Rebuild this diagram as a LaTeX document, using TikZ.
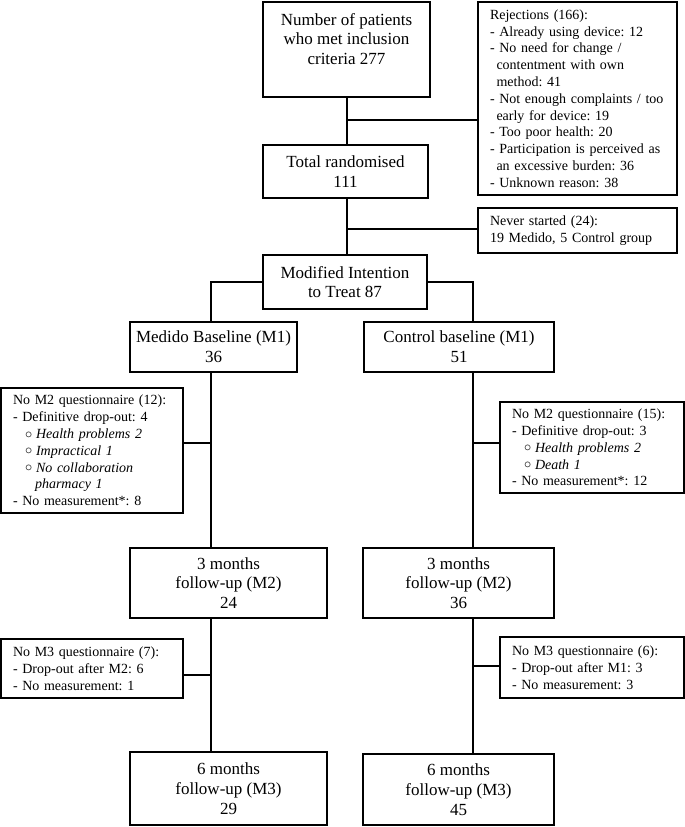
\documentclass[tikz,border=0pt]{standalone}
\usepackage{fontspec}
\setmainfont{Liberation Serif}
\frenchspacing
\newcommand\ind{\hspace*{6.5pt}}
\newcommand\bul{\hspace*{12pt}\makebox[11pt][l]{\raisebox{0.3pt}{$\circ$}}}
\tikzset{
  mainbox/.style={draw, line width=1.2pt, inner sep=0pt, align=center,
    font=\fontsize{17}{19.8}\selectfont},
  maintext/.style={inner sep=0pt, align=center, font=\fontsize{17}{19.8}\selectfont},
  sidebox/.style={draw, line width=1.2pt, inner sep=0pt, align=left,
    font=\fontsize{14}{16.8}\selectfont},
  conn/.style={line width=1.2pt},
}
\begin{document}
\begin{tikzpicture}[x=1pt,y=-1pt]
\useasboundingbox (0,0) rectangle (685,827);

% main column
\node[mainbox, minimum width=167pt, minimum height=95pt] (n1) at (346.5,49.5) {};
\node[maintext, anchor=north] (n1t) at (346.5,13) {Number of patients\\who met inclusion\\criteria 277};
\node[mainbox, minimum width=165pt, minimum height=53pt] (rand) at (345.5,171.5) {Total randomised\\111};
\node[mainbox, minimum width=164pt, minimum height=54pt] (mitt) at (345,282) {Modified Intention\\to Treat 87};
\node[mainbox, minimum width=167pt, minimum height=50pt] (med1) at (213.5,347) {Medido Baseline (M1)\\36};
\node[mainbox, minimum width=190pt, minimum height=50pt] (con1) at (459,347) {Control baseline (M1)\\51};
\node[mainbox, minimum width=197pt, minimum height=70pt] (med2) at (228.5,583) {3 months\\follow-up (M2)\\24};
\node[mainbox, minimum width=191pt, minimum height=70pt] (con2) at (458.5,583) {3 months\\follow-up (M2)\\36};
\node[mainbox, minimum width=197pt, minimum height=73pt] (med3) at (228.5,788.5) {6 months\\follow-up (M3)\\29};
\node[mainbox, minimum width=191pt, minimum height=71pt] (con3) at (458.5,789.5) {6 months\\follow-up (M3)\\45};

% side boxes
\node[sidebox, minimum width=199pt, minimum height=193pt, text width=175pt] (rej) at (577.5,98.5) {Rejections (166):\\
- Already using device: 12\\
- No need for change /\\
\ind contentment with own\\
\ind method: 41\\
- Not enough complaints / too\\
\ind early for device: 19\\
- Too poor health: 20\\
- Participation is perceived as\\
\ind an excessive burden: 36\\
- Unknown reason: 38};
\node[sidebox, minimum width=199pt, minimum height=45pt, text width=175pt] (never) at (577.5,230.5) {Never started (24):\\19 Medido, 5 Control group};
\node[sidebox, minimum width=182pt, minimum height=125pt, text width=158pt] (medno2) at (92,450.5) {No M2 questionnaire (12):\\
- Definitive drop-out: 4\\
\bul\textit{Health problems 2}\\
\bul\textit{Impractical 1}\\
\bul\textit{No collaboration}\\
\hspace*{22pt}\textit{pharmacy 1}\\
- No measurement*: 8};
\node[sidebox, minimum width=184pt, minimum height=91pt, text width=160pt] (conno2) at (592,447.5) {No M2 questionnaire (15):\\
- Definitive drop-out: 3\\
\bul\textit{Health problems 2}\\
\bul\textit{Death 1}\\
- No measurement*: 12};
\node[sidebox, minimum width=182pt, minimum height=59pt, text width=158pt] (medno3) at (92,668.5) {No M3 questionnaire (7):\\
- Drop-out after M2: 6\\
- No measurement: 1};
\node[sidebox, minimum width=184pt, minimum height=61pt, text width=160pt] (conno3) at (592,667.5) {No M3 questionnaire (6):\\
- Drop-out after M1: 3\\
- No measurement: 3};

% connectors
\coordinate (xt) at (347,0);
\coordinate (xm) at (211,0);
\coordinate (xc) at (473,0);
\draw[conn] (xt |- n1.south) -- (xt |- rand.north);
\coordinate (b1) at (347,120);
\draw[conn] (b1) -- (b1 -| rej.west);
\draw[conn] (xt |- rand.south) -- (xt |- mitt.north);
\coordinate (b2) at (347,229);
\draw[conn] (b2) -- (b2 -| never.west);
\draw[conn] (mitt.west) -| (xm |- med1.north);
\draw[conn] (mitt.east) -| (xc |- con1.north);
\draw[conn] (xm |- med1.south) -- (xm |- med2.north);
\coordinate (b3) at (211,443);
\draw[conn] (b3) -- (b3 -| medno2.east);
\draw[conn] (xc |- con1.south) -- (xc |- con2.north);
\coordinate (b4) at (473,443);
\draw[conn] (b4) -- (b4 -| conno2.west);
\draw[conn] (xm |- med2.south) -- (xm |- med3.north);
\coordinate (b5) at (211,675);
\draw[conn] (b5) -- (b5 -| medno3.east);
\draw[conn] (xc |- con2.south) -- (xc |- con3.north);
\coordinate (b6) at (473,666);
\draw[conn] (b6) -- (b6 -| conno3.west);
\end{tikzpicture}
\end{document}
